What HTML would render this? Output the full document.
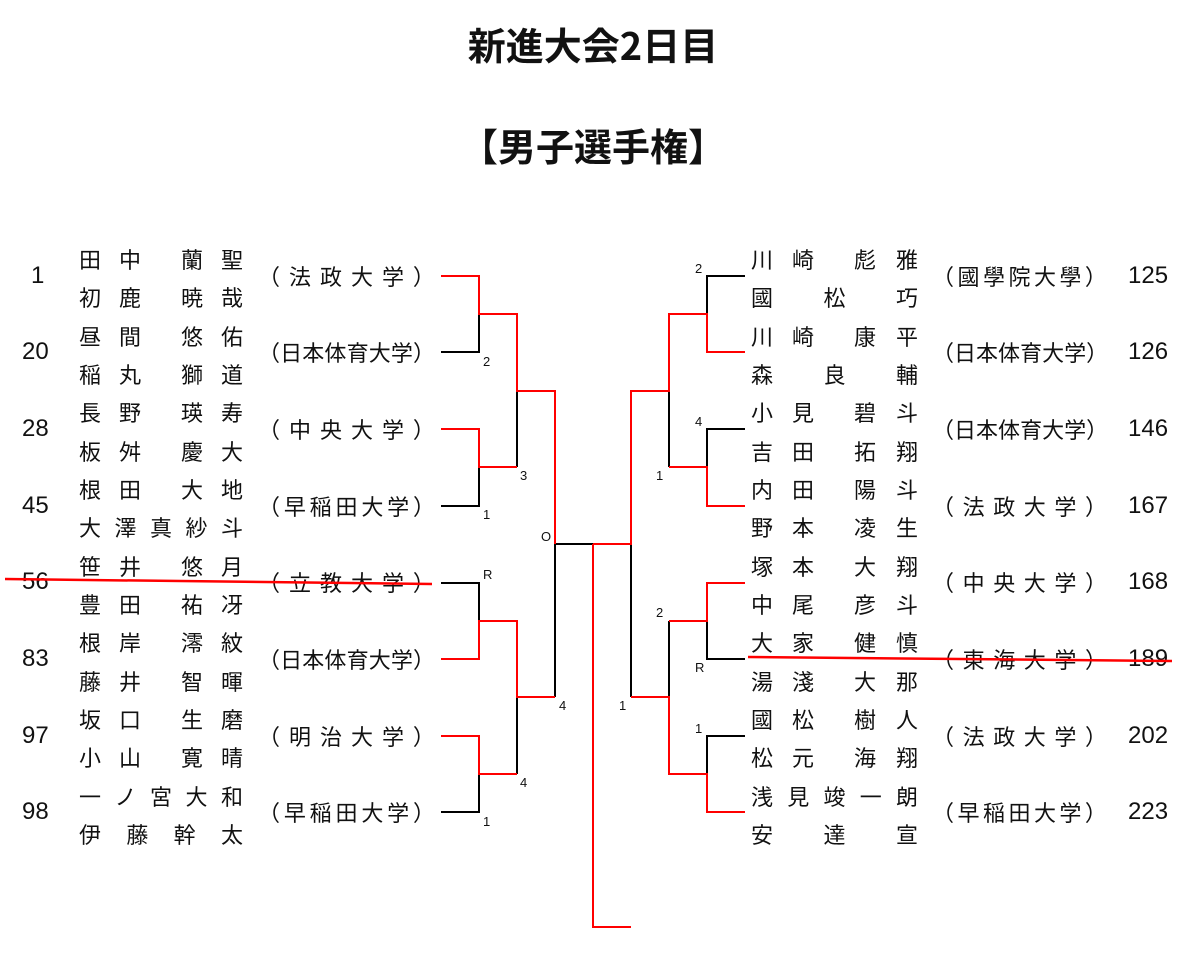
<!DOCTYPE html>
<html><head><meta charset="utf-8"><style>
html,body{margin:0;padding:0;background:#fff;}
body{width:1200px;height:965px;position:relative;overflow:hidden;font-family:"Liberation Sans","Noto Sans CJK JP",sans-serif;color:#111;}
.t{position:absolute;left:0;width:1186px;text-align:center;font-family:"Noto Sans CJK JP",sans-serif;font-weight:bold;font-size:38px;line-height:42px;}
.n,.g,.s{position:absolute;display:flex;justify-content:space-between;font-family:"Noto Sans CJK JP",sans-serif;font-size:22px;line-height:30px;height:30px;}
.num{position:absolute;font-size:24px;line-height:30px;}
.lb{position:absolute;font-size:13px;line-height:14px;}
svg{position:absolute;left:0;top:0;}
</style></head><body>
<div class="t" style="top:23px">新進大会2日目</div>
<div class="t" style="top:124px">【男子選手権】</div>

<!-- LEFT -->
<div class="num" style="left:31px;top:261px">1</div>
<div class="g" style="left:79px;top:244px;width:62px"><span>田</span><span>中</span></div><div class="g" style="left:181px;top:244px;width:62px"><span>蘭</span><span>聖</span></div>
<div class="g" style="left:79px;top:282px;width:62px"><span>初</span><span>鹿</span></div><div class="g" style="left:181px;top:282px;width:62px"><span>暁</span><span>哉</span></div>
<div class="s" style="left:258px;top:261px;width:177px"><span>（</span><span>法</span><span>政</span><span>大</span><span>学</span><span>）</span></div>

<div class="num" style="left:22px;top:337px">20</div>
<div class="g" style="left:79px;top:321px;width:62px"><span>昼</span><span>間</span></div><div class="g" style="left:181px;top:321px;width:62px"><span>悠</span><span>佑</span></div>
<div class="g" style="left:79px;top:359px;width:62px"><span>稲</span><span>丸</span></div><div class="g" style="left:181px;top:359px;width:62px"><span>獅</span><span>道</span></div>
<div class="s" style="left:258px;top:337px;width:177px"><span>（</span><span>日</span><span>本</span><span>体</span><span>育</span><span>大</span><span>学</span><span>）</span></div>

<div class="num" style="left:22px;top:414px">28</div>
<div class="g" style="left:79px;top:397px;width:62px"><span>長</span><span>野</span></div><div class="g" style="left:181px;top:397px;width:62px"><span>瑛</span><span>寿</span></div>
<div class="g" style="left:79px;top:436px;width:62px"><span>板</span><span>舛</span></div><div class="g" style="left:181px;top:436px;width:62px"><span>慶</span><span>大</span></div>
<div class="s" style="left:258px;top:414px;width:177px"><span>（</span><span>中</span><span>央</span><span>大</span><span>学</span><span>）</span></div>

<div class="num" style="left:22px;top:491px">45</div>
<div class="g" style="left:79px;top:474px;width:62px"><span>根</span><span>田</span></div><div class="g" style="left:181px;top:474px;width:62px"><span>大</span><span>地</span></div>
<div class="n" style="left:79px;top:512px;width:164px"><span>大</span><span>澤</span><span>真</span><span>紗</span><span>斗</span></div>
<div class="s" style="left:258px;top:491px;width:177px"><span>（</span><span>早</span><span>稲</span><span>田</span><span>大</span><span>学</span><span>）</span></div>

<div class="num" style="left:22px;top:567px">56</div>
<div class="g" style="left:79px;top:551px;width:62px"><span>笹</span><span>井</span></div><div class="g" style="left:181px;top:551px;width:62px"><span>悠</span><span>月</span></div>
<div class="g" style="left:79px;top:589px;width:62px"><span>豊</span><span>田</span></div><div class="g" style="left:181px;top:589px;width:62px"><span>祐</span><span>冴</span></div>
<div class="s" style="left:258px;top:567px;width:177px"><span>（</span><span>立</span><span>教</span><span>大</span><span>学</span><span>）</span></div>

<div class="num" style="left:22px;top:644px">83</div>
<div class="g" style="left:79px;top:627px;width:62px"><span>根</span><span>岸</span></div><div class="g" style="left:181px;top:627px;width:62px"><span>澪</span><span>紋</span></div>
<div class="g" style="left:79px;top:666px;width:62px"><span>藤</span><span>井</span></div><div class="g" style="left:181px;top:666px;width:62px"><span>智</span><span>暉</span></div>
<div class="s" style="left:258px;top:644px;width:177px"><span>（</span><span>日</span><span>本</span><span>体</span><span>育</span><span>大</span><span>学</span><span>）</span></div>

<div class="num" style="left:22px;top:721px">97</div>
<div class="g" style="left:79px;top:704px;width:62px"><span>坂</span><span>口</span></div><div class="g" style="left:181px;top:704px;width:62px"><span>生</span><span>磨</span></div>
<div class="g" style="left:79px;top:742px;width:62px"><span>小</span><span>山</span></div><div class="g" style="left:181px;top:742px;width:62px"><span>寛</span><span>晴</span></div>
<div class="s" style="left:258px;top:721px;width:177px"><span>（</span><span>明</span><span>治</span><span>大</span><span>学</span><span>）</span></div>

<div class="num" style="left:22px;top:797px">98</div>
<div class="n" style="left:79px;top:781px;width:164px"><span>一</span><span>ノ</span><span>宮</span><span>大</span><span>和</span></div>
<div class="n" style="left:79px;top:819px;width:164px"><span>伊</span><span>藤</span><span>幹</span><span>太</span></div>
<div class="s" style="left:258px;top:797px;width:177px"><span>（</span><span>早</span><span>稲</span><span>田</span><span>大</span><span>学</span><span>）</span></div>

<!-- RIGHT -->
<div class="g" style="left:751px;top:244px;width:63px"><span>川</span><span>崎</span></div><div class="g" style="left:854px;top:244px;width:64px"><span>彪</span><span>雅</span></div>
<div class="n" style="left:751px;top:282px;width:167px"><span>國</span><span>松</span><span>巧</span></div>
<div class="s" style="left:932px;top:261px;width:175px"><span>（</span><span>國</span><span>學</span><span>院</span><span>大</span><span>學</span><span>）</span></div>
<div class="num" style="left:1128px;top:261px">125</div>

<div class="g" style="left:751px;top:321px;width:63px"><span>川</span><span>崎</span></div><div class="g" style="left:854px;top:321px;width:64px"><span>康</span><span>平</span></div>
<div class="n" style="left:751px;top:359px;width:167px"><span>森</span><span>良</span><span>輔</span></div>
<div class="s" style="left:932px;top:337px;width:175px"><span>（</span><span>日</span><span>本</span><span>体</span><span>育</span><span>大</span><span>学</span><span>）</span></div>
<div class="num" style="left:1128px;top:337px">126</div>

<div class="g" style="left:751px;top:397px;width:63px"><span>小</span><span>見</span></div><div class="g" style="left:854px;top:397px;width:64px"><span>碧</span><span>斗</span></div>
<div class="g" style="left:751px;top:436px;width:63px"><span>吉</span><span>田</span></div><div class="g" style="left:854px;top:436px;width:64px"><span>拓</span><span>翔</span></div>
<div class="s" style="left:932px;top:414px;width:175px"><span>（</span><span>日</span><span>本</span><span>体</span><span>育</span><span>大</span><span>学</span><span>）</span></div>
<div class="num" style="left:1128px;top:414px">146</div>

<div class="g" style="left:751px;top:474px;width:63px"><span>内</span><span>田</span></div><div class="g" style="left:854px;top:474px;width:64px"><span>陽</span><span>斗</span></div>
<div class="g" style="left:751px;top:512px;width:63px"><span>野</span><span>本</span></div><div class="g" style="left:854px;top:512px;width:64px"><span>凌</span><span>生</span></div>
<div class="s" style="left:932px;top:491px;width:175px"><span>（</span><span>法</span><span>政</span><span>大</span><span>学</span><span>）</span></div>
<div class="num" style="left:1128px;top:491px">167</div>

<div class="g" style="left:751px;top:551px;width:63px"><span>塚</span><span>本</span></div><div class="g" style="left:854px;top:551px;width:64px"><span>大</span><span>翔</span></div>
<div class="g" style="left:751px;top:589px;width:63px"><span>中</span><span>尾</span></div><div class="g" style="left:854px;top:589px;width:64px"><span>彦</span><span>斗</span></div>
<div class="s" style="left:932px;top:567px;width:175px"><span>（</span><span>中</span><span>央</span><span>大</span><span>学</span><span>）</span></div>
<div class="num" style="left:1128px;top:567px">168</div>

<div class="g" style="left:751px;top:627px;width:63px"><span>大</span><span>家</span></div><div class="g" style="left:854px;top:627px;width:64px"><span>健</span><span>慎</span></div>
<div class="g" style="left:751px;top:666px;width:63px"><span>湯</span><span>淺</span></div><div class="g" style="left:854px;top:666px;width:64px"><span>大</span><span>那</span></div>
<div class="s" style="left:932px;top:644px;width:175px"><span>（</span><span>東</span><span>海</span><span>大</span><span>学</span><span>）</span></div>
<div class="num" style="left:1128px;top:644px">189</div>

<div class="g" style="left:751px;top:704px;width:63px"><span>國</span><span>松</span></div><div class="g" style="left:854px;top:704px;width:64px"><span>樹</span><span>人</span></div>
<div class="g" style="left:751px;top:742px;width:63px"><span>松</span><span>元</span></div><div class="g" style="left:854px;top:742px;width:64px"><span>海</span><span>翔</span></div>
<div class="s" style="left:932px;top:721px;width:175px"><span>（</span><span>法</span><span>政</span><span>大</span><span>学</span><span>）</span></div>
<div class="num" style="left:1128px;top:721px">202</div>

<div class="n" style="left:751px;top:781px;width:167px"><span>浅</span><span>見</span><span>竣</span><span>一</span><span>朗</span></div>
<div class="n" style="left:751px;top:819px;width:167px"><span>安</span><span>達</span><span>宣</span></div>
<div class="s" style="left:932px;top:797px;width:175px"><span>（</span><span>早</span><span>稲</span><span>田</span><span>大</span><span>学</span><span>）</span></div>
<div class="num" style="left:1128px;top:797px">223</div>

<!-- labels -->
<div class="lb" style="left:483px;top:355px">2</div>
<div class="lb" style="left:520px;top:469px">3</div>
<div class="lb" style="left:483px;top:508px">1</div>
<div class="lb" style="left:541px;top:530px">O</div>
<div class="lb" style="left:483px;top:568px">R</div>
<div class="lb" style="left:559px;top:699px">4</div>
<div class="lb" style="left:520px;top:776px">4</div>
<div class="lb" style="left:483px;top:815px">1</div>
<div class="lb" style="left:695px;top:262px">2</div>
<div class="lb" style="left:695px;top:415px">4</div>
<div class="lb" style="left:656px;top:469px">1</div>
<div class="lb" style="left:656px;top:606px">2</div>
<div class="lb" style="left:695px;top:661px">R</div>
<div class="lb" style="left:619px;top:699px">1</div>
<div class="lb" style="left:695px;top:722px">1</div>

<svg width="1200" height="965" viewBox="0 0 1200 965" fill="none" stroke-width="2" shape-rendering="crispEdges">
<g stroke="#000">
<path d="M441 352H479V314"/>
<path d="M441 506H479V467"/>
<path d="M517 391V467"/>
<path d="M441 583H479V621"/>
<path d="M441 812H479V774"/>
<path d="M517 697V774"/>
<path d="M555 544V697"/>
<path d="M555 544H593"/>
<path d="M631 544V697"/>
<path d="M745 276H707V314"/>
<path d="M745 429H707V467"/>
<path d="M669 391V467"/>
<path d="M745 659H707V621"/>
<path d="M745 736H707V774"/>
<path d="M669 621V697"/>
</g>
<g stroke="#f00">
<path d="M441 276H479V314H517V391H555V544"/>
<path d="M441 429H479V467H517"/>
<path d="M441 659H479V621H517V697H555"/>
<path d="M441 736H479V774H517"/>
<path d="M593 544H631V391H669V314H707V352H745"/>
<path d="M669 467H707V506H745"/>
<path d="M593 544V927H631"/>
<path d="M631 697H669V774H707V812H745"/>
<path d="M669 621H707V583H745"/>
</g>
<g stroke="#f00" stroke-width="2.5" shape-rendering="auto">
<line x1="5" y1="579" x2="432" y2="584"/>
<line x1="748" y1="657" x2="1172" y2="661"/>
</g>
</svg>
</body></html>
